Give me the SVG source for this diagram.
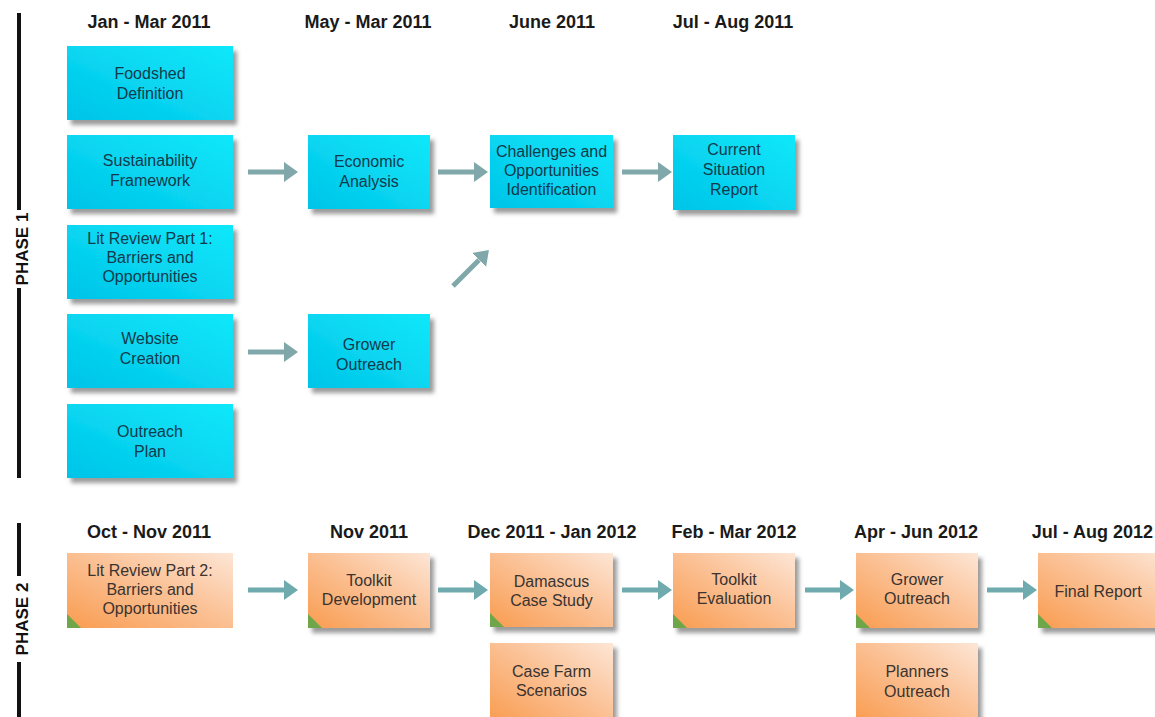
<svg xmlns="http://www.w3.org/2000/svg" width="1155" height="717" viewBox="0 0 1155 717">
<style>
.hd{font-family:"Liberation Sans",Arial,sans-serif;font-weight:bold;font-size:18px;fill:#1a1a1a;text-anchor:middle}
.ph{font-family:"Liberation Sans",Arial,sans-serif;font-weight:bold;font-size:17px;fill:#111;text-anchor:middle}
.tc{font-family:"Liberation Sans",Arial,sans-serif;font-size:16px;fill:#123a4c;text-anchor:middle}
.to{font-family:"Liberation Sans",Arial,sans-serif;font-size:16px;fill:#3a3330;text-anchor:middle}
.cy{fill:url(#gc)}
.or{fill:url(#go)}
.sh{filter:url(#ds)}
.a1{stroke:#80a7a9;stroke-width:5;fill:none}
.a2{stroke:#6fabae;stroke-width:5;fill:none}
.bar{fill:#111}
</style>
<defs>
<linearGradient id="gc" x1="0" y1="1" x2="1" y2="0">
<stop offset="0" stop-color="#00c4e8"/>
<stop offset="1" stop-color="#10e8fa"/>
</linearGradient>
<linearGradient id="go" x1="0" y1="1" x2="1" y2="0">
<stop offset="0" stop-color="#f99c50"/>
<stop offset="0.55" stop-color="#fbc297"/>
<stop offset="1" stop-color="#fde6d6"/>
</linearGradient>
<filter id="ds" x="-10%" y="-10%" width="125%" height="130%">
<feDropShadow dx="4" dy="5" stdDeviation="2" flood-color="#7a7a7a" flood-opacity="0.75"/>
</filter>
<marker id="m1" viewBox="0 0 14 20" refX="0" refY="10" markerWidth="14" markerHeight="20" markerUnits="userSpaceOnUse" orient="auto">
<path d="M0,0 L14,10 L0,20 Z" fill="#80a7a9"/>
</marker>
<marker id="m2" viewBox="0 0 14 20" refX="0" refY="10" markerWidth="14" markerHeight="20" markerUnits="userSpaceOnUse" orient="auto">
<path d="M0,0 L14,10 L0,20 Z" fill="#6fabae"/>
</marker>
</defs>
<rect width="1155" height="717" fill="#ffffff"/>

<g id="phase-labels">
<rect class="bar" x="17" y="13" width="4" height="197"/>
<rect class="bar" x="17" y="288" width="4" height="190"/>
<text class="ph" transform="translate(28,249) rotate(-90)">PHASE 1</text>
<rect class="bar" x="17" y="523" width="4" height="53"/>
<rect class="bar" x="17" y="662" width="4" height="55"/>
<text class="ph" transform="translate(28,619) rotate(-90)">PHASE 2</text>
</g>

<g id="headings">
<text class="hd" x="149" y="28">Jan - Mar 2011</text>
<text class="hd" x="368" y="28">May - Mar 2011</text>
<text class="hd" x="552" y="28">June 2011</text>
<text class="hd" x="733" y="28">Jul - Aug 2011</text>
<text class="hd" x="149" y="538">Oct - Nov 2011</text>
<text class="hd" x="369" y="538">Nov 2011</text>
<text class="hd" x="552" y="538">Dec 2011 - Jan 2012</text>
<text class="hd" x="734" y="538">Feb - Mar 2012</text>
<text class="hd" x="916" y="538">Apr - Jun 2012</text>
<text class="hd" x="1153" y="538" style="text-anchor:end">Jul - Aug 2012</text>
</g>

<g id="connectors">
<line class="a1" x1="248" y1="172" x2="284" y2="172" marker-end="url(#m1)"/>
<line class="a1" x1="438" y1="172" x2="474" y2="172" marker-end="url(#m1)"/>
<line class="a1" x1="622" y1="172" x2="658" y2="172" marker-end="url(#m1)"/>
<line class="a1" x1="453" y1="286" x2="479" y2="260" marker-end="url(#m1)"/>
<line class="a1" x1="248" y1="352" x2="284" y2="352" marker-end="url(#m1)"/>
<line class="a2" x1="248" y1="590" x2="284" y2="590" marker-end="url(#m2)"/>
<line class="a2" x1="438" y1="590" x2="474" y2="590" marker-end="url(#m2)"/>
<line class="a2" x1="622" y1="590" x2="658" y2="590" marker-end="url(#m2)"/>
<line class="a2" x1="805" y1="590" x2="840" y2="590" marker-end="url(#m2)"/>
<line class="a2" x1="987" y1="590" x2="1023" y2="590" marker-end="url(#m2)"/>
</g>

<g id="foodshed">
<rect class="cy sh" x="67" y="46" width="166" height="74"/>
<text class="tc" x="150" y="79">Foodshed</text>
<text class="tc" x="150" y="99">Definition</text>
</g>
<g id="sustainability">
<rect class="cy sh" x="67" y="135" width="166" height="74"/>
<text class="tc" x="150" y="166">Sustainability</text>
<text class="tc" x="150" y="186">Framework</text>
</g>
<g id="litreview1">
<rect class="cy sh" x="67" y="225" width="166" height="74"/>
<text class="tc" x="150" y="244">Lit Review Part 1:</text>
<text class="tc" x="150" y="263">Barriers and</text>
<text class="tc" x="150" y="282">Opportunities</text>
</g>
<g id="website">
<rect class="cy sh" x="67" y="314" width="166" height="74"/>
<text class="tc" x="150" y="344">Website</text>
<text class="tc" x="150" y="364">Creation</text>
</g>
<g id="outreachplan">
<rect class="cy sh" x="67" y="404" width="166" height="74"/>
<text class="tc" x="150" y="437">Outreach</text>
<text class="tc" x="150" y="457">Plan</text>
</g>
<g id="economic">
<rect class="cy sh" x="308" y="135" width="122" height="74"/>
<text class="tc" x="369" y="167">Economic</text>
<text class="tc" x="369" y="187">Analysis</text>
</g>
<g id="grower1">
<rect class="cy sh" x="308" y="314" width="122" height="74"/>
<text class="tc" x="369" y="350">Grower</text>
<text class="tc" x="369" y="370">Outreach</text>
</g>
<g id="challenges">
<rect class="cy sh" x="490" y="135" width="123" height="73"/>
<text class="tc" x="551.5" y="157">Challenges and</text>
<text class="tc" x="551.5" y="176">Opportunities</text>
<text class="tc" x="551.5" y="195">Identification</text>
</g>
<g id="current">
<rect class="cy sh" x="673" y="135" width="122" height="75"/>
<text class="tc" x="734" y="155">Current</text>
<text class="tc" x="734" y="175">Situation</text>
<text class="tc" x="734" y="195">Report</text>
</g>

<g id="litreview2">
<rect class="or" x="67" y="553" width="166" height="75"/>
<path d="M67,628 L67,614 L81,628 Z" fill="#6fa64a"/>
<text class="to" x="150" y="576">Lit Review Part 2:</text>
<text class="to" x="150" y="595">Barriers and</text>
<text class="to" x="150" y="614">Opportunities</text>
</g>
<g id="toolkitdev">
<rect class="or sh" x="308" y="553" width="122" height="75"/>
<path d="M308,628 L308,614 L322,628 Z" fill="#6fa64a"/>
<text class="to" x="369" y="586">Toolkit</text>
<text class="to" x="369" y="605">Development</text>
</g>
<g id="damascus">
<rect class="or sh" x="490" y="553" width="123" height="74"/>
<path d="M490,627 L490,613 L504,627 Z" fill="#6fa64a"/>
<text class="to" x="551.5" y="587">Damascus</text>
<text class="to" x="551.5" y="606">Case Study</text>
</g>
<g id="casefarm">
<rect class="or sh" x="490" y="643" width="123" height="80"/>
<text class="to" x="551.5" y="677">Case Farm</text>
<text class="to" x="551.5" y="696">Scenarios</text>
</g>
<g id="toolkiteval">
<rect class="or sh" x="673" y="553" width="122" height="75"/>
<path d="M673,628 L673,614 L687,628 Z" fill="#6fa64a"/>
<text class="to" x="734" y="585">Toolkit</text>
<text class="to" x="734" y="604">Evaluation</text>
</g>
<g id="grower2">
<rect class="or sh" x="856" y="553" width="122" height="75"/>
<path d="M856,628 L856,614 L870,628 Z" fill="#6fa64a"/>
<text class="to" x="917" y="585">Grower</text>
<text class="to" x="917" y="604">Outreach</text>
</g>
<g id="planners">
<rect class="or sh" x="856" y="643" width="122" height="80"/>
<text class="to" x="917" y="677">Planners</text>
<text class="to" x="917" y="697">Outreach</text>
</g>
<g id="finalreport">
<rect class="or sh" x="1038" y="553" width="130" height="75"/>
<path d="M1038,628 L1038,614 L1052,628 Z" fill="#6fa64a"/>
<text class="to" x="1098" y="597">Final Report</text>
</g>
</svg>
